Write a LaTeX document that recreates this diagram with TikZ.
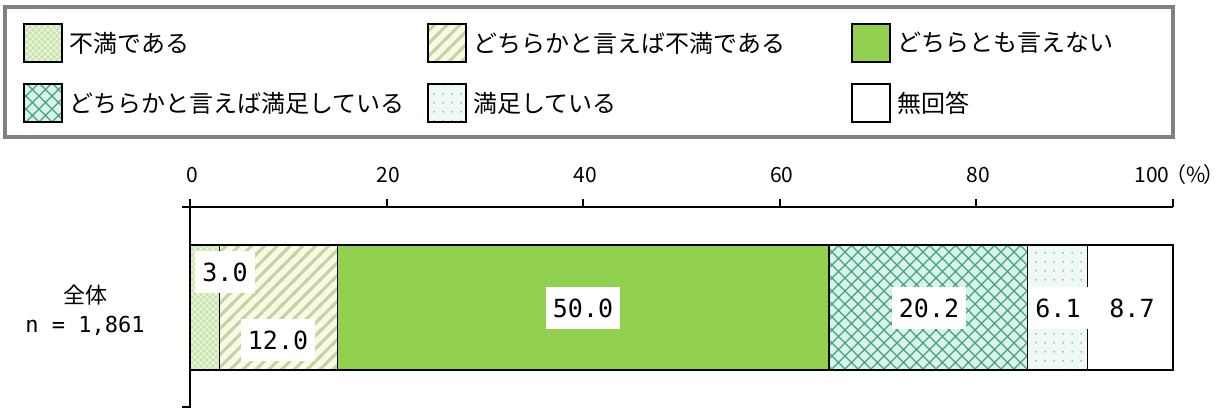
\documentclass[tikz,border=0pt]{standalone}
\usepackage{fontspec}
\setmainfont{Noto Sans CJK JP}
\newfontfamily\monofont{DejaVu Sans Mono}
\usetikzlibrary{patterns}

% --- Colores ---
\definecolor{legendgray}{RGB}{128,128,128}
\definecolor{fumanbg}{RGB}{200,228,170}
\definecolor{fumanln}{RGB}{236,246,226}
\definecolor{yafumanbg}{RGB}{248,250,232}
\definecolor{yafumanln}{RGB}{200,212,160}
\definecolor{greenfill}{RGB}{146,208,80}
\definecolor{yamanzokubg}{RGB}{216,244,232}
\definecolor{yamanzokuln}{RGB}{70,160,130}
\definecolor{manzokubg}{RGB}{238,248,244}
\definecolor{manzokudot}{RGB}{150,160,150}

% --- Tramas ---
\pgfdeclarepatternformonly{finehatch}{\pgfqpoint{-1pt}{-1pt}}{\pgfqpoint{4pt}{4pt}}{\pgfqpoint{3pt}{3pt}}{%
  \pgfsetlinewidth{0.5pt}%
  \pgfpathmoveto{\pgfqpoint{-0.1pt}{-0.1pt}}\pgfpathlineto{\pgfqpoint{3.1pt}{3.1pt}}%
  \pgfpathmoveto{\pgfqpoint{-0.1pt}{3.1pt}}\pgfpathlineto{\pgfqpoint{3.1pt}{-0.1pt}}%
  \pgfusepath{stroke}}
\pgfdeclarepatternformonly{widestripes}{\pgfqpoint{-1pt}{-1pt}}{\pgfqpoint{7.4pt}{7.4pt}}{\pgfqpoint{6.4pt}{6.4pt}}{%
  \pgfsetlinewidth{1.5pt}%
  \pgfpathmoveto{\pgfqpoint{-1pt}{-1pt}}\pgfpathlineto{\pgfqpoint{7.4pt}{7.4pt}}%
  \pgfpathmoveto{\pgfqpoint{-1pt}{5.4pt}}\pgfpathlineto{\pgfqpoint{1pt}{7.4pt}}%
  \pgfpathmoveto{\pgfqpoint{5.4pt}{-1pt}}\pgfpathlineto{\pgfqpoint{7.4pt}{1pt}}%
  \pgfusepath{stroke}}
\pgfdeclarepatternformonly{widehatch}{\pgfqpoint{-1pt}{-1pt}}{\pgfqpoint{7.5pt}{7.5pt}}{\pgfqpoint{6.5pt}{6.5pt}}{%
  \pgfsetlinewidth{0.55pt}%
  \pgfpathmoveto{\pgfqpoint{-0.1pt}{-0.1pt}}\pgfpathlineto{\pgfqpoint{6.6pt}{6.6pt}}%
  \pgfpathmoveto{\pgfqpoint{-0.1pt}{6.6pt}}\pgfpathlineto{\pgfqpoint{6.6pt}{-0.1pt}}%
  \pgfusepath{stroke}}
\pgfdeclarepatternformonly{sparsedots}{\pgfqpoint{0pt}{0pt}}{\pgfqpoint{4.3pt}{4.3pt}}{\pgfqpoint{4.3pt}{4.3pt}}{%
  \pgfpathcircle{\pgfqpoint{2.15pt}{2.15pt}}{0.45pt}%
  \pgfusepath{fill}}

\begin{document}
\begin{tikzpicture}[x=0.5pt, y=-0.5pt,
  every node/.style={font=\fontsize{12}{14}\selectfont},
  seg/.style={draw=black, line width=0.6pt},
  fuman/.style={seg, preaction={fill=fumanbg},
    pattern=finehatch, pattern color=fumanln},
  yafuman/.style={seg, preaction={fill=yafumanbg},
    pattern=widestripes, pattern color=yafumanln},
  dochiramo/.style={seg, fill=greenfill},
  yamanzoku/.style={seg, preaction={fill=yamanzokubg},
    pattern=widehatch, pattern color=yamanzokuln},
  manzoku/.style={seg, preaction={fill=manzokubg},
    pattern=sparsedots, pattern color=manzokudot},
  mukaito/.style={seg, fill=white},
  valbox/.style={fill=white, font=\monofont\fontsize{12.5}{14}\selectfont,
    inner xsep=3.5pt, minimum height=21pt},
  ticklabel/.style={font=\fontsize{10.5}{12}\selectfont}]

\useasboundingbox (0,0) rectangle (1224,408);

% --- Leyenda ---
\draw[line width=1.6pt, draw=legendgray] (5,7) rectangle (1173,137);
\foreach \sty/\lx/\ly/\txt in {fuman/24/24/不満である,
    yafuman/428/24/どちらかと言えば不満である,
    dochiramo/852/24/どちらとも言えない,
    yamanzoku/24/84/どちらかと言えば満足している,
    manzoku/428/84/満足している,
    mukaito/852/84/無回答} {
  \path[\sty] (\lx,\ly) rectangle +(38,38);
  \node[anchor=west, inner xsep=0pt] (leg-\sty) at (\lx+45,\ly+19) {\txt};
}

% --- Ejes ---
\draw[line width=1.2pt] (190,207) -- (1173,207);
\draw[line width=1.4pt] (190,199) -- (190,408);
\draw[line width=1pt] (182,207) -- (190,207);
\draw[line width=1pt] (182,407) -- (190,407);
\foreach \v in {20,40,...,100} {
  \draw[line width=1pt] (190+9.83*\v,199) -- (190+9.83*\v,207);
}
\foreach \v in {0,20,40,60,80} {
  \node[ticklabel] (tick-\v) at (192+9.83*\v,175) {\v};
}
\node[ticklabel, anchor=west, inner xsep=0pt] (tick-100) at (1134,175) {100\kern-2pt（\%\kern-1pt）};

% --- Barra ---
\foreach \sty/\xa/\xb in {fuman/190/219.5, yafuman/219.5/337.5,
    dochiramo/337.5/829, yamanzoku/829/1027.5,
    manzoku/1027.5/1087.5, mukaito/1087.5/1173} {
  \path[\sty] (\xa,245) rectangle (\xb,370);
}

% --- Valores ---
\node[valbox] (v-fuman)     at (225,272)  {3.0};
\node[valbox] (v-yafuman)   at (278,340)  {12.0};
\node[valbox] (v-dochiramo) at (583,308)  {50.0};
\node[valbox] (v-yamanzoku) at (929,308)  {20.2};
\node[valbox, minimum width=29pt] (v-manzoku) at (1058,308) {6.1};
\node[valbox, fill=none] (v-mukaito) at (1132,308) {8.7};

% --- Nombre de la fila ---
\node[font=\fontsize{11}{13}\selectfont] (zentai) at (85,295) {全体};
\node[font=\monofont\fontsize{11}{13}\selectfont] (nlabel) at (85,326) {n = 1,861};

\end{tikzpicture}
\end{document}
